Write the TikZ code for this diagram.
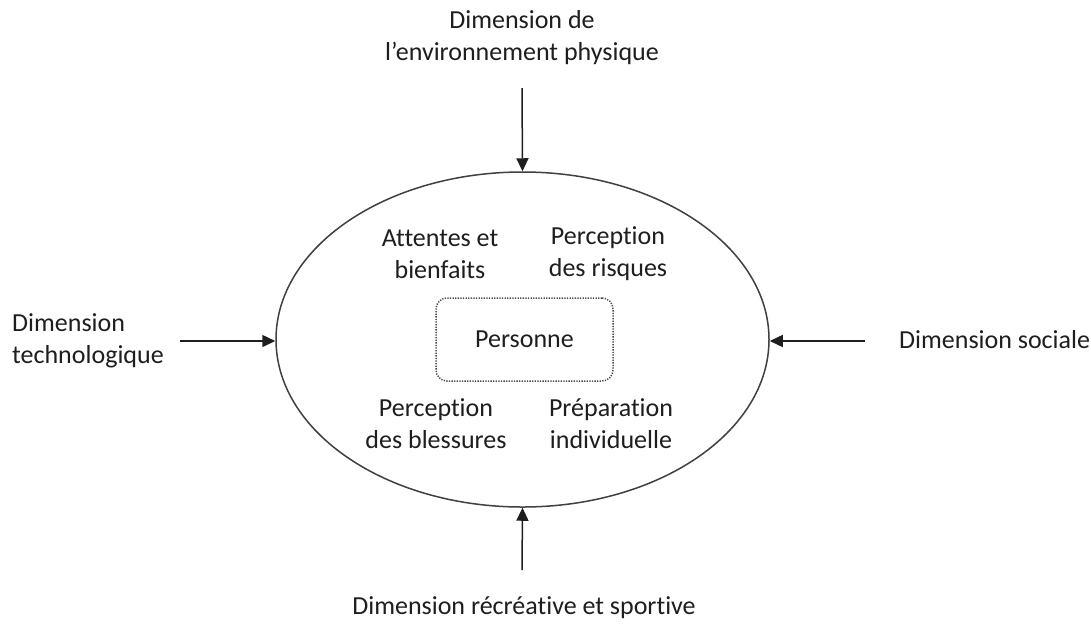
\documentclass[tikz,border=0pt]{standalone}
\usepackage{fontspec}
\setmainfont{Carlito}[Ligatures={NoCommon}]
\usetikzlibrary{shapes.geometric,arrows.meta}
\definecolor{ink}{HTML}{1E1E1E}
\tikzset{
  lbl/.style={font=\fontsize{26}{32}\selectfont, text=ink, inner sep=0pt, align=center},
  arr/.style={draw=ink, line width=1.5pt, -{Triangle[length=13pt,width=12pt]}},
}
\begin{document}
\begin{tikzpicture}[x=1pt,y=-1pt]
\useasboundingbox (0,0) rectangle (1091,630);
\fill[white] (0,0) rectangle (1091,630);
\node[ellipse, draw=ink!85, line width=1.5pt, minimum width=493pt, minimum height=335pt, inner sep=0pt] (ell) at (522.5,339.5) {};
\node[draw=ink!80, dash pattern=on 1.3pt off 1.3pt, line width=1.5pt, rounded corners=11pt, minimum width=177pt, minimum height=83pt, inner sep=0pt] (pers) at (524.5,339.5) {};
\node[lbl] (perst) at (524.5,339.5) {Personne};
\node[lbl] (att) at (440,254) {Attentes et\\bienfaits};
\node[lbl] (risq) at (608,254) {Perception\\des risques};
\node[lbl] (bless) at (436,424) {Perception\\des blessures};
\node[lbl] (prep) at (611,424) {Préparation\\individuelle};
\node[lbl] (top) at (522,38) {Dimension de\\l’environnement physique};
\node[lbl, align=left, anchor=west] (left) at (12,341) {Dimension\\technologique};
\node[lbl, anchor=west] (right) at (899,340) {Dimension sociale};
\node[lbl] (bot) at (524,608) {Dimension récréative et sportive};
\coordinate (ta) at (522,88);
\coordinate (ba) at (522,570);
\coordinate (la) at (180,341);
\coordinate (ra) at (865,341);
\draw[arr] (ta) -- (ell.north);
\draw[arr] (ba) -- (ell.south);
\draw[arr] (la) -- (ell.west |- la);
\draw[arr] (ra) -- (ell.east |- ra);
\end{tikzpicture}
\end{document}
